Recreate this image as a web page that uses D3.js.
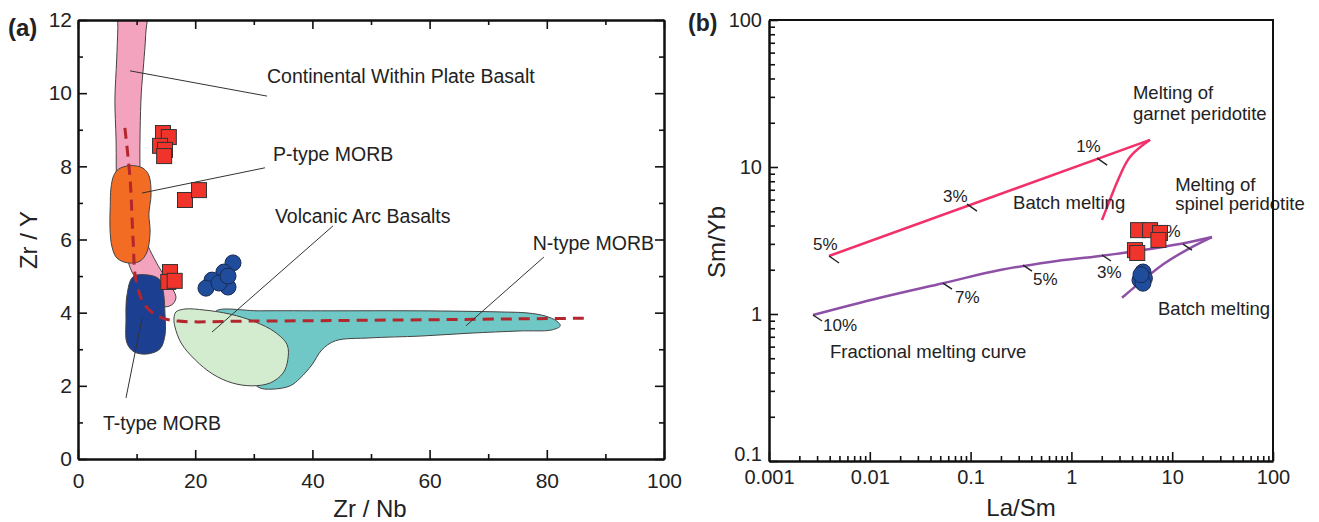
<!DOCTYPE html>
<html>
<head>
<meta charset="utf-8">
<script src="https://cdn.jsdelivr.net/npm/d3@7"></script>
<style>
  body { margin: 0; background: #fff; }
  text { font-family: "Liberation Sans", Arial, sans-serif; fill: #222; }
</style>
</head>
<body>
<svg id="chart" width="1319" height="522"></svg>
<script>
// ---------- panel (a) data : Zr/Nb vs Zr/Y ----------
const pinkField = [[6.9,12.6],[11.6,12.6],[11.55,11.6],[11.2,10.8],[10.8,10.0],[10.6,8.99],[10.58,7.9],[10.92,6.81],
  [11.6,5.99],[12.97,5.49],[14.33,5.11],[15.7,4.76],[16.72,4.43],[16.21,4.24],[15.02,4.16],[13.65,4.24],
  [12.29,4.48],[10.58,4.76],[9.22,5.11],[8.19,5.58],[7.17,6.26],[6.6,7.35],[6.5,8.72],[6.3,9.81],[6.6,10.91],[6.8,11.8]];
const orangeField = [[6.9,7.92],[8.87,8.02],[11.09,7.95],[12.12,7.74],[12.46,7.22],[12.1,6.7],[12.3,6.2],
  [11.77,5.66],[10.58,5.41],[8.53,5.36],[6.66,5.49],[5.8,5.8],[5.46,6.3],[5.5,6.9],[5.63,7.41],[6.1,7.75]];
const blueField = [[9.39,4.98],[11.95,5.03],[13.82,4.92],[14.51,4.62],[14.85,3.94],[14.85,3.39],[13.99,3.01],
  [11.77,2.87],[9.56,2.93],[8.36,3.17],[8.19,3.8],[8.36,4.48]];
const greenField = [[16.72,4.02],[18.26,4.1],[21.67,4.07],[25.94,3.96],[30.2,3.75],[33.6,3.47],[35.7,3.12],
  [35.8,2.71],[35.0,2.35],[32.8,2.08],[29.7,2.0],[26.3,2.08],[23.0,2.32],[20.0,2.71],[17.6,3.17],[16.55,3.61],[16.38,3.85]];
const tealField = [[23.4,4.02],[31.1,4.05],[43.0,4.05],[58.4,4.05],[72.0,4.02],[76.8,3.99],[79.7,3.91],[81.7,3.77],
  [82.3,3.64],[80.9,3.53],[75.4,3.5],[66.9,3.44],[58.4,3.36],[49.8,3.31],[43.9,3.23],[41.6,2.98],[39.9,2.57],
  [37.9,2.21],[36.2,2.0],[33.1,1.91],[30.7,1.97],[28.0,2.6],[25.0,3.4]];
const trendLine = [[8.0,9.05],[8.9,7.63],[9.4,5.99],[9.9,4.89],[11.4,4.21],[14.0,3.88],[17.1,3.77],[29.4,3.77],[55,3.8],[87.4,3.85]];
const squaresA = [[14.5,8.91],[15.5,8.8],[14.0,8.56],[14.85,8.45],[14.7,8.28],[18.26,7.08],[20.65,7.35],[15.7,5.11],[15.4,4.84],[16.5,4.87]];
const circlesA = [[26.45,5.36],[24.9,5.11],[22.87,4.89],[21.84,4.67],[25.6,4.7],[24.06,4.81],[25.6,5.0]];
const labelsA = [
  {text: "Continental Within Plate Basalt", at: [32.25,10.28], from: [8.87,10.61], to: [32.25,9.92]},
  {text: "P-type MORB", at: [33.28,8.15], from: [10.92,7.27], to: [31.9,7.96]},
  {text: "Volcanic Arc Basalts", at: [33.6,6.45], from: [22.87,3.47], to: [43.5,6.37]},
  {text: "N-type MORB", at: [77.6,5.71], from: [66.2,3.64], to: [79.5,5.52]},
  {text: "T-type MORB", at: [4.27,0.79], from: [10.92,3.85], to: [8.19,1.67]}
];
const xTicksA = [0, 20, 40, 60, 80, 100];
const yTicksA = [0, 2, 4, 6, 8, 10, 12];

// ---------- panel (b) data : La/Sm vs Sm/Yb ----------
const garnetLine = [[0.00394,2.48],[6.03,15.3]];
const garnetReturn = [[6.03,15.3],[3.81,11.7],[2.9,8.17],[2.41,5.97],[2.01,4.36]];
const spinelCurve = [[0.002733,0.984],[0.01262,1.29],[0.0532,1.62],[0.196,1.99],[0.613,2.26],[1.92,2.48],
  [6.03,2.77],[15.0,3.09],[24.8,3.34]];
const spinelReturn = [[24.8,3.34],[15.0,2.81],[8.49,2.22],[5.13,1.7],[3.18,1.29]];
const garnetMarks = [
  {pct: "5%", at: [0.00394,2.48], dx: -16, dy: -6},
  {pct: "3%", at: [0.0921,5.59], dx: -24, dy: -2},
  {pct: "1%", at: [1.8,11.5], dx: -21, dy: -6}
];
const spinelMarks = [
  {pct: "10%", at: [0.002733,0.984], dx: 10, dy: 16},
  {pct: "7%", at: [0.0532,1.62], dx: 12, dy: 20},
  {pct: "5%", at: [0.331,2.15], dx: 10, dy: 20},
  {pct: "3%", at: [2.01,2.52], dx: -5, dy: 23},
  {pct: "1%", at: [12.8,2.99], dx: -27, dy: -7}
];
const squaresB = [[4.58,3.72],[6.03,3.72],[7.57,3.56],[7.3,3.19],[4.27,2.72],[4.5,2.6]];
const circlesB = [[5.13,1.93],[5.3,1.75],[4.79,1.7],[5.13,1.62],[4.9,1.85]];
const labelsB = [
  {text: "Melting of", at: [4.08,29.0]},
  {text: "garnet peridotite", at: [4.08,20.9]},
  {text: "Batch melting", at: [0.264,5.17]},
  {text: "Melting of", at: [10.7,6.9]},
  {text: "spinel peridotite", at: [10.7,5.09]},
  {text: "Batch melting", at: [7.23,0.984]},
  {text: "Fractional melting curve", at: [0.00403,0.502]}
];
const xTicksB = [0.001, 0.01, 0.1, 1, 10, 100];
const xTickLabelsB = ["0.001", "0.01", "0.1", "1", "10", "100"];
const yTicksB = [0.1, 1, 10, 100];
const yTickLabelsB = ["0.1", "1", "10", "100"];

const svg = d3.select("#chart");
svg.append("rect").attr("width", 1319).attr("height", 522).attr("fill", "#fff");

// ================= panel (a) =================
const xa = d3.scaleLinear().domain([0, 100]).range([78, 664]);
const ya = d3.scaleLinear().domain([0, 12]).range([459, 20]);
const ga = svg.append("g");

svg.append("defs").append("clipPath").attr("id", "clipA")
  .append("rect").attr("x", 78).attr("y", 20).attr("width", 586).attr("height", 439);
const plotA = ga.append("g").attr("clip-path", "url(#clipA)");

const blob = d3.line().x(d => xa(d[0])).y(d => ya(d[1])).curve(d3.curveCatmullRomClosed.alpha(0.5));
const fields = [
  {pts: tealField, fill: "#6fc8c6"},
  {pts: greenField, fill: "#d3ecd0"},
  {pts: pinkField, fill: "#f4a3be"},
  {pts: orangeField, fill: "#f36c24"},
  {pts: blueField, fill: "#1c3f92"}
];
plotA.selectAll("path.field").data(fields).join("path")
  .attr("class", "field")
  .attr("d", d => blob(d.pts))
  .attr("fill", d => d.fill)
  .attr("stroke", "#444")
  .attr("stroke-width", 1);

plotA.append("path")
  .attr("d", d3.line().x(d => xa(d[0])).y(d => ya(d[1])).curve(d3.curveCatmullRom)(trendLine))
  .attr("fill", "none")
  .attr("stroke", "#b3262d")
  .attr("stroke-width", 3)
  .attr("stroke-dasharray", "11,7");

// leader lines
ga.selectAll("line.leader").data(labelsA).join("line")
  .attr("class", "leader")
  .attr("x1", d => xa(d.from[0])).attr("y1", d => ya(d.from[1]))
  .attr("x2", d => xa(d.to[0])).attr("y2", d => ya(d.to[1]))
  .attr("stroke", "#333").attr("stroke-width", 1);
ga.selectAll("text.flabel").data(labelsA).join("text")
  .attr("class", "flabel")
  .attr("x", d => xa(d.at[0])).attr("y", d => ya(d.at[1]))
  .attr("font-size", 19.5)
  .text(d => d.text);

// samples
ga.selectAll("rect.sq").data(squaresA).join("rect")
  .attr("class", "sq")
  .attr("x", d => xa(d[0]) - 7.5).attr("y", d => ya(d[1]) - 7.5)
  .attr("width", 15).attr("height", 15)
  .attr("fill", "#f0332b").attr("stroke", "#333").attr("stroke-width", 1);
ga.selectAll("circle.ci").data(circlesA).join("circle")
  .attr("class", "ci")
  .attr("cx", d => xa(d[0])).attr("cy", d => ya(d[1])).attr("r", 8)
  .attr("fill", "#1f4d9c").attr("stroke", "#1a2a55").attr("stroke-width", 1);

// axes
const styleAxis = g => {
  g.select(".domain").attr("stroke", "#111").attr("stroke-width", 2);
  g.selectAll(".tick line").attr("stroke", "#111").attr("stroke-width", 1.6);
  g.selectAll(".tick text").attr("font-size", 21).attr("fill", "#222")
    .attr("font-family", "'Liberation Sans', Arial, sans-serif");
};
ga.append("g").attr("transform", "translate(0,459)")
  .call(d3.axisBottom(xa).tickValues(xTicksA).tickSizeInner(-9).tickSizeOuter(0).tickPadding(14))
  .call(styleAxis);
ga.append("g").attr("transform", "translate(0,459)")
  .call(d3.axisBottom(xa).tickValues(d3.range(10, 100, 20)).tickSizeInner(-5).tickSizeOuter(0).tickFormat(""))
  .call(styleAxis);
ga.append("g").attr("transform", "translate(78,0)")
  .call(d3.axisLeft(ya).tickValues(yTicksA).tickSizeInner(-9).tickSizeOuter(0).tickPadding(6))
  .call(styleAxis);
ga.append("g").attr("transform", "translate(78,0)")
  .call(d3.axisLeft(ya).tickValues(d3.range(1, 12, 2)).tickSizeInner(-5).tickSizeOuter(0).tickFormat(""))
  .call(styleAxis);
ga.append("g").attr("transform", "translate(0,20)")
  .call(d3.axisTop(xa).tickValues(xTicksA).tickSizeInner(-9).tickSizeOuter(0).tickFormat(""))
  .call(styleAxis);
ga.append("g").attr("transform", "translate(0,20)")
  .call(d3.axisTop(xa).tickValues(d3.range(10, 100, 20)).tickSizeInner(-5).tickSizeOuter(0).tickFormat(""))
  .call(styleAxis);
ga.append("g").attr("transform", "translate(664,0)")
  .call(d3.axisRight(ya).tickValues(yTicksA).tickSizeInner(-9).tickSizeOuter(0).tickFormat(""))
  .call(styleAxis);
ga.append("g").attr("transform", "translate(664,0)")
  .call(d3.axisRight(ya).tickValues(d3.range(1, 12, 2)).tickSizeInner(-5).tickSizeOuter(0).tickFormat(""))
  .call(styleAxis);

ga.append("text").attr("x", 370).attr("y", 517).attr("text-anchor", "middle")
  .attr("font-size", 24).text("Zr / Nb");
ga.append("text").attr("transform", "translate(37,240) rotate(-90)").attr("text-anchor", "middle")
  .attr("font-size", 24).text("Zr / Y");
ga.append("text").attr("x", 8).attr("y", 36).attr("font-size", 24).attr("font-weight", "bold").text("(a)");

// ================= panel (b) =================
const xb = d3.scaleLog().domain([0.001, 100]).range([769, 1273]);
const yb = d3.scaleLog().domain([0.1, 100]).range([461, 20]);
const gb = svg.append("g");

const straight = d3.line().x(d => xb(d[0])).y(d => yb(d[1]));
const smooth = d3.line().x(d => xb(d[0])).y(d => yb(d[1])).curve(d3.curveCatmullRom.alpha(0.5));
const curves = [
  {d: straight(garnetLine), c: "#f2306a"},
  {d: smooth(garnetReturn), c: "#f2306a"},
  {d: smooth(spinelCurve), c: "#8e50a6"},
  {d: smooth(spinelReturn), c: "#8e50a6"}
];
gb.selectAll("path.curve").data(curves).join("path")
  .attr("class", "curve")
  .attr("d", d => d.d)
  .attr("fill", "none").attr("stroke", d => d.c).attr("stroke-width", 2.5)
  .attr("stroke-linejoin", "round");

const drawMarks = (marks, tx, ty) => {
  gb.selectAll(null).data(marks).join("line")
    .attr("x1", d => xb(d.at[0])).attr("y1", d => yb(d.at[1]))
    .attr("x2", d => xb(d.at[0]) + tx).attr("y2", d => yb(d.at[1]) + ty)
    .attr("stroke", "#222").attr("stroke-width", 1.4);
  gb.selectAll(null).data(marks).join("text")
    .attr("x", d => xb(d.at[0]) + d.dx).attr("y", d => yb(d.at[1]) + d.dy)
    .attr("font-size", 17).text(d => d.pct);
};
drawMarks(garnetMarks, 10, 7);
drawMarks(spinelMarks, 9, 6);

gb.selectAll("text.blabel").data(labelsB).join("text")
  .attr("class", "blabel")
  .attr("x", d => xb(d.at[0])).attr("y", d => yb(d.at[1]))
  .attr("font-size", 18.5).text(d => d.text);

gb.selectAll("rect.sq").data(squaresB).join("rect")
  .attr("x", d => xb(d[0]) - 7.5).attr("y", d => yb(d[1]) - 7.5)
  .attr("width", 15).attr("height", 15)
  .attr("fill", "#f0332b").attr("stroke", "#333").attr("stroke-width", 1);
gb.selectAll("circle.ci").data(circlesB).join("circle")
  .attr("cx", d => xb(d[0])).attr("cy", d => yb(d[1])).attr("r", 8)
  .attr("fill", "#1f4d9c").attr("stroke", "#1a2a55").attr("stroke-width", 1);

// log minor ticks
const minorLog = (lo, hi) => {
  const out = [];
  for (let e = lo; e < hi; e++) for (let k = 2; k <= 9; k++) out.push(k * Math.pow(10, e));
  return out;
};
gb.append("g").attr("transform", "translate(0,461)")
  .call(d3.axisBottom(xb).tickValues(xTicksB).tickSizeInner(-9).tickSizeOuter(0).tickPadding(9)
    .tickFormat((d, i) => xTickLabelsB[i]))
  .call(styleAxis);
gb.append("g").attr("transform", "translate(0,461)")
  .call(d3.axisBottom(xb).tickValues(minorLog(-3, 2)).tickSizeInner(-5).tickSizeOuter(0).tickFormat(""))
  .call(styleAxis);
const yAxisB = gb.append("g").attr("transform", "translate(769,0)")
  .call(d3.axisLeft(yb).tickValues(yTicksB).tickSizeInner(-9).tickSizeOuter(0).tickPadding(7)
    .tickFormat((d, i) => yTickLabelsB[i]))
  .call(styleAxis);
yAxisB.selectAll(".tick text").filter(d => d === 0.1).attr("dy", "-0.05em");
gb.append("g").attr("transform", "translate(769,0)")
  .call(d3.axisLeft(yb).tickValues(minorLog(-1, 2)).tickSizeInner(-6).tickSizeOuter(0).tickFormat(""))
  .call(styleAxis);
gb.selectAll(".tick text").attr("font-size", 20);
// frame top / right
gb.append("path")
  .attr("d", `M${xb(0.001)},${yb(100)}H${xb(100)}V${yb(0.1)}`)
  .attr("fill", "none").attr("stroke", "#111").attr("stroke-width", 2);

gb.append("text").attr("x", 1021).attr("y", 516).attr("text-anchor", "middle")
  .attr("font-size", 24).text("La/Sm");
gb.append("text").attr("transform", "translate(725,242) rotate(-90)").attr("text-anchor", "middle")
  .attr("font-size", 24).text("Sm/Yb");
gb.append("text").attr("x", 688).attr("y", 31).attr("font-size", 23).attr("font-weight", "bold").text("(b)");
</script>
</body>
</html>
